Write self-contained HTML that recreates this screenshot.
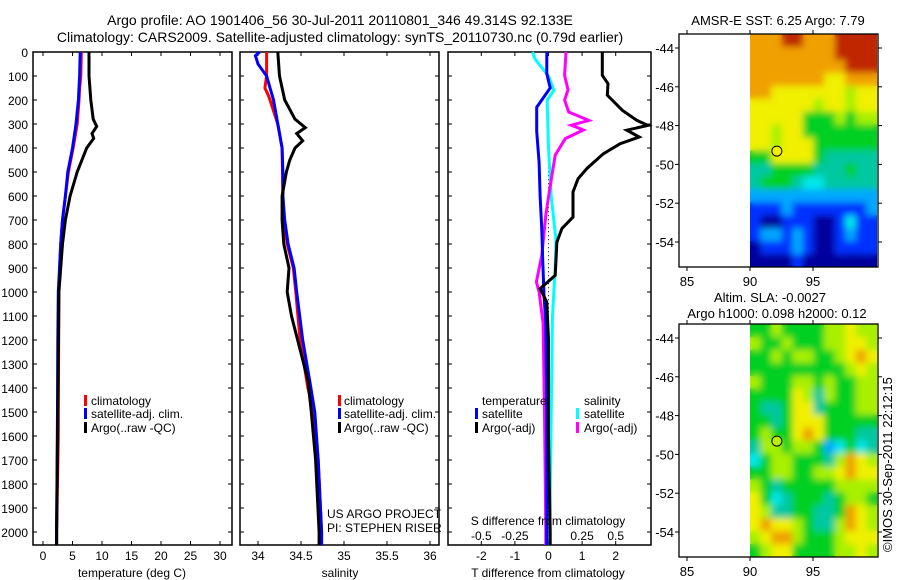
<!DOCTYPE html>
<html><head><meta charset="utf-8"><style>
html,body{margin:0;padding:0;background:#fff;}
svg{display:block;font-family:"Liberation Sans",sans-serif;}
text{fill:#000;}
</style></head><body>
<svg id="c" width="900" height="580" viewBox="0 0 900 580" xmlns="http://www.w3.org/2000/svg">
<defs>
<filter id="smooth" x="0" y="0" width="1" height="1" filterUnits="objectBoundingBox">
<feGaussianBlur stdDeviation="3.5" edgeMode="duplicate"/>
</filter>
<clipPath id="clip1"><rect x="750" y="34" width="127" height="233"/></clipPath>
<clipPath id="clip2"><rect x="750" y="324" width="127" height="233"/></clipPath>
</defs>
<text x="340" y="25" font-size="14" text-anchor="middle">Argo profile: AO 1901406_56 30-Jul-2011 20110801_346 49.314S 92.133E</text>
<text x="340" y="42" font-size="14" text-anchor="middle">Climatology: CARS2009. Satellite-adjusted climatology: synTS_20110730.nc (0.79d earlier)</text>
<text x="778" y="25" font-size="13" text-anchor="middle">AMSR-E SST: 6.25 Argo: 7.79</text>
<text x="770" y="302" font-size="13" text-anchor="middle">Altim. SLA: -0.0027</text>
<text x="777" y="318" font-size="13" text-anchor="middle">Argo h1000: 0.098 h2000: 0.12</text>
<text transform="translate(892,552) rotate(-90)" font-size="13">©IMOS 30-Sep-2011 22:12:15</text>
<g id="plots"></g>
</svg>
<script>
// ---- data ----
const depthTicks=[0,100,200,300,400,500,600,700,800,900,1000,1100,1200,1300,1400,1500,1600,1700,1800,1900,2000];
const tempTicks=[0,5,10,15,20,25,30];
const salTicks=[34,34.5,35,35.5,36];
const tdiffTicks=[-2,-1,0,1,2];
const sdiffTicks=[-0.5,-0.25,0,0.25,0.5];
const lonTicks=[85,90,95];
const latTicks=[-44,-46,-48,-50,-52,-54];

const tClimDepth=[0,100,150,200,300,400,500,600,700,800,1000,1500,1600,2000,2054];
const tClimVal=[6.5,6.4,6.2,6.1,5.8,5.1,4.3,3.8,3.3,3.0,2.7,2.6,2.6,2.3,2.3];
const tSatDepth=[0,100,200,300,400,500,600,700,800,900,1000,1200,1500,2000,2054];
const tSatVal=[6.3,6.2,6.0,5.6,5.0,4.2,3.8,3.3,3.0,2.8,2.6,2.5,2.45,2.3,2.3];
const tArgoDepth=[0,100,200,280,310,340,360,400,500,600,700,800,900,1000,1500,2000,2054];
const tArgoVal=[7.8,7.8,8.1,8.5,9.1,8.3,8.6,7.4,5.8,4.6,3.8,3.3,3.0,2.7,2.5,2.3,2.3];

const sClimDepth=[0,100,150,180,200,300,400,600,700,800,900,1000,1200,1400,1500,1700,2000,2054];
const sClimVal=[34.1,34.1,34.08,34.12,34.14,34.23,34.28,34.29,34.3,34.34,34.41,34.44,34.49,34.58,34.65,34.7,34.74,34.74];
const sSatDepth=[0,15,50,100,200,300,400,500,600,700,800,900,1000,1200,1367,1500,1700,2000,2054];
const sSatVal=[34.02,33.97,34.0,34.1,34.18,34.23,34.28,34.29,34.29,34.31,34.35,34.42,34.45,34.52,34.6,34.66,34.7,34.74,34.74];
const sArgoDepth=[0,100,200,280,315,340,370,400,450,500,600,700,800,900,1000,1100,1367,1500,1700,2000,2054];
const sArgoVal=[34.23,34.25,34.31,34.43,34.55,34.45,34.52,34.43,34.37,34.33,34.28,34.28,34.3,34.36,34.34,34.39,34.58,34.62,34.67,34.71,34.71];

const dtSatDepth=[0,90,150,230,330,460,600,740,880,1020,1130,1500,2000,2054];
const dtSatVal=[-0.05,-0.05,0.05,-0.35,-0.35,-0.28,-0.25,-0.2,-0.17,-0.13,-0.08,-0.05,-0.05,-0.05];
const dtArgoDepth=[0,97,132,180,201,243,285,306,326,354,382,424,486,528,583,688,736,792,931,986,1042,1200,1600,2000,2054];
const dtArgoVal=[1.6,1.6,1.77,1.75,1.9,2.2,2.63,2.96,2.33,2.7,2.13,1.63,1.14,0.88,0.73,0.73,0.4,0.25,0.2,-0.25,-0.05,0.0,0.0,0.05,0.05];
const dsSatDepth=[0,30,100,160,200,400,600,780,900,1100,1500,2000,2054];
const dsSatVal=[-0.12,-0.1,0,0.04,-0.01,0,0.02,0.055,0.05,0.03,0.02,0.01,0.01];
const dsArgoDepth=[0,97,158,200,250,285,305,325,361,430,569,680,847,958,1000,1129,1500,2000,2054];
const dsArgoVal=[0.13,0.12,0.145,0.12,0.15,0.3,0.17,0.26,0.125,0.05,0.01,-0.02,-0.05,-0.09,-0.07,-0.04,-0.03,-0.02,-0.02];

const sstGrid=[
"888998889999","888888889999","888888888999","888888877888",
"887777777677","777777677677","777775556566","776775555555",
"776777555555","557777544444","445555444544","455543344444",
"222222222222","111211111112","100111001311","122121001211",
"011121001111","000010000000"];
const slaGrid=[
"556555566766","655655566776","556566556787","555555555676",
"655566565566","555576465566","544577455566","554577755555",
"565578755544","466566523534","356655546876","556655667877",
"654555556666","753455545665","764455445876","787765446876",
"678865556777","567755556676"];
const argoLon=92.133, argoLat=-49.314;

// ---- drawing ----
const NS='http://www.w3.org/2000/svg';
const root=document.getElementById('plots');
function mk(tag,attrs,parent){const e=document.createElementNS(NS,tag);for(const k in attrs)e.setAttribute(k,attrs[k]);(parent||root).appendChild(e);return e;}
const Y0=52,DY=0.24;
function yD(d){return Y0+d*DY;}
const xT=t=>43+t*5.9;
const xS=s=>258+(s-34)*86;
const xDT=v=>548.5+v*33.6;
const xDS=v=>548.5+v*134.4;

function frame(x0,x1,name){
  const r=mk('rect',{x:x0,y:Y0,width:x1-x0,height:545-Y0,fill:'none',stroke:'#000','stroke-width':1.5});
  
  
  depthTicks.forEach(d=>{
    mk('line',{x1:x0,x2:x0+4,y1:yD(d),y2:yD(d),stroke:'#000'});
    mk('line',{x1:x1,x2:x1-4,y1:yD(d),y2:yD(d),stroke:'#000'});
  });
}
function xticks(vals,fx,x0,x1,labels,ly,name){
  vals.forEach(v=>{
    const x=fx(v);
    mk('line',{x1:x,x2:x,y1:Y0,y2:Y0+4,stroke:'#000'});
    mk('line',{x1:x,x2:x,y1:545,y2:541,stroke:'#000'});
    if(labels){const t=mk('text',{x:x,y:ly,'font-size':12,'text-anchor':'middle'});t.textContent=v;
      
      }
  });
}
function line(ds,vs,fx,color,name,w){
  const pts=ds.map((d,i)=>fx(vs[i]).toFixed(1)+','+yD(d).toFixed(1)).join(' ');
  const p=mk('polyline',{points:pts,fill:'none',stroke:color,'stroke-width':w||3,'stroke-linejoin':'miter'});
  
  
}
function txt(x,y,s,name,size,anchor){const t=mk('text',{x:x,y:y,'font-size':size||12,'text-anchor':anchor||'start'});t.textContent=s;
  
  return t;}
function legbar(x,y,c){const r=mk('rect',{x:x,y:y-10,width:3,height:11,fill:c});
  
  }

// panel 1
frame(33,232,'temperature-panel');
depthTicks.forEach(d=>{txt(28,yD(d)+5,d,'depth-tick-label',12,'end');});
xticks(tempTicks,xT,33,232,true,560,'temperature-tick-label');
line(tClimDepth,tClimVal,xT,'#ff0000','temp-climatology-line');
line(tSatDepth,tSatVal,xT,'#0000ff','temp-satellite-line');
line(tArgoDepth,tArgoVal,xT,'#000','temp-argo-line');
txt(132,577,'temperature (deg C)','temperature-axis-title',12,'middle');
legbar(84,405,'#f00');txt(91,405,'climatology','legend-climatology');
legbar(84,418,'#00f');txt(91,418,'satellite-adj. clim.','legend-satellite');
legbar(84,432,'#000');txt(91,432,'Argo(..raw -QC)','legend-argo');

// panel 2
frame(240,439,'salinity-panel');
xticks(salTicks,xS,240,439,true,560,'salinity-tick-label');
line(sClimDepth,sClimVal,xS,'#ff0000','sal-climatology-line');
line(sSatDepth,sSatVal,xS,'#0000ff','sal-satellite-line');
line(sArgoDepth,sArgoVal,xS,'#000','sal-argo-line');
txt(340,577,'salinity','salinity-axis-title',12,'middle');
legbar(338,405,'#f00');txt(344,405,'climatology','legend-climatology');
legbar(338,418,'#00f');txt(344,418,'satellite-adj. clim.','legend-satellite');
legbar(338,432,'#000');txt(344,432,'Argo(..raw -QC)','legend-argo');
txt(327,518,'US ARGO PROJECT','project-label');
txt(327,532,'PI: STEPHEN RISER','pi-label');

// panel 3
frame(448,651,'difference-panel');
xticks(tdiffTicks,xDT,448,651,true,560,'tdiff-tick-label');
sdiffTicks.forEach(v=>txt(xDS(v),540,v,'sdiff-tick-label',12,'middle'));
mk('line',{x1:548.5,x2:548.5,y1:yD(380),y2:545,stroke:'#000','stroke-dasharray':'1,3'});
line(dsSatDepth,dsSatVal,xDS,'#00ffff','sdiff-satellite-line');
line(dsArgoDepth,dsArgoVal,xDS,'#ff00ff','sdiff-argo-line');
line(dtSatDepth,dtSatVal,xDT,'#0000ff','tdiff-satellite-line');
line(dtArgoDepth,dtArgoVal,xDT,'#000','tdiff-argo-line');
txt(548,525,'S difference from climatology','sdiff-axis-title',12,'middle');
txt(548,577,'T difference from climatology','tdiff-axis-title',12,'middle');
txt(482,405,'temperature','legend-temperature-heading');
txt(584,405,'salinity','legend-salinity-heading');
legbar(475,418,'#00f');txt(482,418,'satellite','legend-t-satellite');
legbar(475,432,'#000');txt(482,432,'Argo(-adj)','legend-t-argo');
legbar(576,418,'#0ff');txt(584,418,'satellite','legend-s-satellite');
legbar(576,432,'#f0f');txt(584,432,'Argo(-adj)','legend-s-argo');

// maps
const pal=['#00009c','#0030ff','#00a8ff','#00e8e8','#00c8a0','#00d020','#a8f000','#f0f000','#f0a000','#c02800'];
function map(top,grid,name,circleFill,clipId){
  const L=679,R=878,B=top+233;
  const xl=lon=>750+(lon-90)*12.6;
  const yl=lat=>top+14+(-44-lat)*19.4;
  const rows=grid.length,cols=grid[0].length;
  const cw=(877-750)/cols,ch=(B-top)/rows;
  const outer=mk('g',{'clip-path':'url(#'+clipId+')'});
  const base=mk('g',{},outer);
  const g=mk('g',{filter:'url(#smooth)'},outer);
  [base,g].forEach(layer=>{
    grid.forEach((row,i)=>{for(let j=0;j<cols;j++){
      const c=mk('rect',{x:(750+j*cw).toFixed(1),y:(top+i*ch).toFixed(1),width:(cw+0.6).toFixed(1),height:(ch+0.6).toFixed(1),fill:pal[+row[j]]},layer);
      
      
    }});
  });
  const f=mk('rect',{x:L,y:top,width:R-L,height:B-top,fill:'none',stroke:'#000','stroke-width':1.3});
  
  
  lonTicks.forEach(v=>{const x=xl(v);mk('line',{x1:x,x2:x,y1:top,y2:top-4,stroke:'#000'});mk('line',{x1:x,x2:x,y1:B,y2:B+4,stroke:'#000'});
    txt(x,B+19,v,'lon-tick-label',13,'middle');});
  latTicks.forEach(v=>{const y=yl(v);mk('line',{x1:L,x2:L-4,y1:y,y2:y,stroke:'#000'});mk('line',{x1:R,x2:R+4,y1:y,y2:y,stroke:'#000'});
    txt(674,y+5,v,'lat-tick-label',13,'end');});
  const m=mk('circle',{cx:xl(argoLon),cy:yl(argoLat),r:5,fill:circleFill,stroke:'#000','stroke-width':1});
  
  
}
map(34,sstGrid,'sst-map','#f0f000','clip1');
map(324,slaGrid,'sla-map','#b8f000','clip2');
</script>
</body></html>
